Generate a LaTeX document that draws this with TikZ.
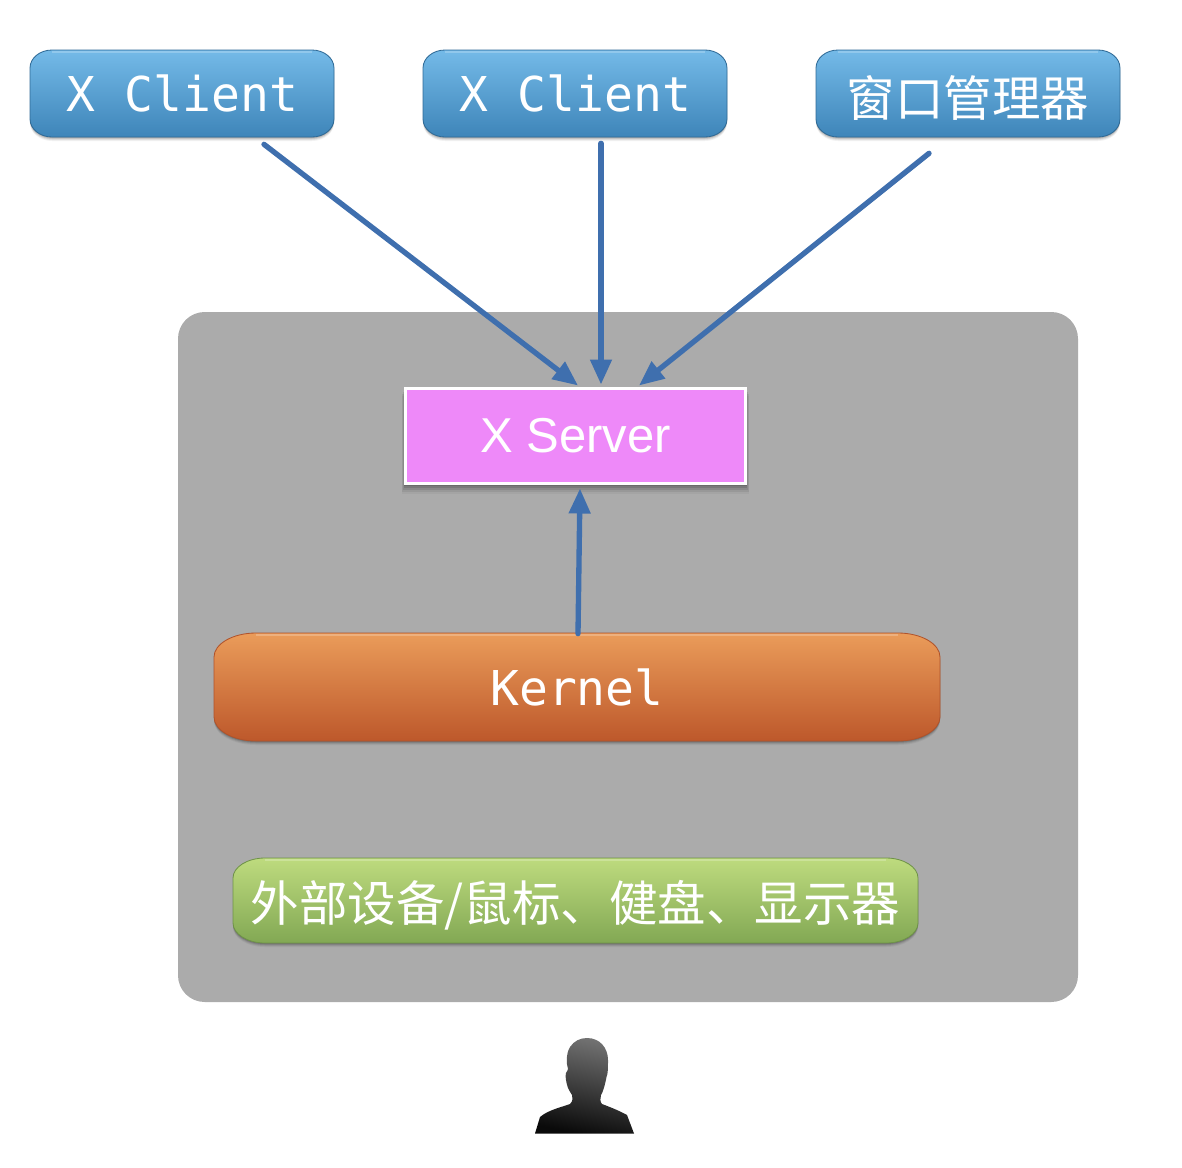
\documentclass[tikz,border=0pt]{standalone}
\usepackage{fontspec}
\setmainfont{Liberation Sans}
\setmonofont{DejaVu Sans Mono}
\newfontfamily\cjkfont{Noto Sans CJK SC}
\usetikzlibrary{arrows.meta,calc}
\definecolor{panelgrey}{HTML}{ABABAB}
\definecolor{arrowblue}{HTML}{3F6FAE}
\definecolor{blueT}{HTML}{74BAE8}
\definecolor{blueB}{HTML}{3E85B9}
\definecolor{blueE}{HTML}{2F6A96}
\definecolor{orangeT}{HTML}{EA9C5A}
\definecolor{orangeB}{HTML}{BD582B}
\definecolor{orangeE}{HTML}{B0532B}
\definecolor{greenT}{HTML}{BEDB7E}
\definecolor{greenB}{HTML}{82A854}
\definecolor{greenE}{HTML}{6F9348}
\definecolor{serverpink}{HTML}{EE89F9}
\newcommand{\softpath}[6]{(#1+#5,#2) -- (#3-#5,#2) .. controls (#3-0.45*#5,#2) and (#3,#2+0.45*#6) .. (#3,#2+#6) -- (#3,#4-#6) .. controls (#3,#4-0.45*#6) and (#3-0.45*#5,#4) .. (#3-#5,#4) -- (#1+#5,#4) .. controls (#1+0.45*#5,#4) and (#1,#4-0.45*#6) .. (#1,#4-#6) -- (#1,#2+#6) .. controls (#1,#2+0.45*#6) and (#1+0.45*#5,#2) .. (#1+#5,#2) -- cycle}
% x0 y0 x1 y1 rx ry top bottom edge
\newcommand{\softbox}[9]{%
  \foreach \d/\o in {4/0.05,3/0.08,2/0.11,1/0.14}{\fill[black,opacity=\o,shift={(0,\d)}] \softpath{#1}{#2}{#3}{#4}{#5}{#6};}
  \shade[top color=#7,bottom color=#8,draw=#9,line width=0.5pt] \softpath{#1}{#2}{#3}{#4}{#5}{#6};
  \draw[white,opacity=0.22,line width=1.2pt] (#1+#5,#2+2) -- (#3-#5,#2+2);
}
\tikzset{
  x=0.6pt,y=-0.6pt,
  label box/.style={inner sep=0pt,text=white,anchor=center},
  mono label/.style={label box,font=\ttfamily\fontsize{28.8}{30}\selectfont},
  cjk label/.style={label box,font=\cjkfont\fontsize{29.1}{30}\selectfont},
  flow/.style={arrowblue,line width=3.2pt,line cap=round,-{Triangle[length=15pt,width=12.5pt]}},
  panel/.style={fill=panelgrey,draw=none,rounded corners=16pt},
  server/.style={fill=serverpink,draw=white,line width=1.8pt,minimum width=204pt,minimum height=57pt,inner sep=0pt,text=white,font=\fontsize{29.4}{30}\selectfont},
}
\begin{document}
\begin{tikzpicture}
\useasboundingbox (0,0) rectangle (1182,1168);
\fill[panel] (178,312) rectangle (1078,1002);

\softbox{30}{50}{334}{137}{22}{18}{blueT}{blueB}{blueE}
\softbox{423}{50}{727}{137}{22}{18}{blueT}{blueB}{blueE}
\softbox{816}{50}{1120}{137}{22}{18}{blueT}{blueB}{blueE}
\softbox{214}{633}{940}{741}{42}{24}{orangeT}{orangeB}{orangeE}
\softbox{233}{858}{918}{943}{32}{20}{greenT}{greenB}{greenE}

\node[mono label,minimum width=182.4pt,minimum height=52.2pt] (c1) at (182.5,93.5) {X Client};
\node[mono label,minimum width=182.4pt,minimum height=52.2pt] (c2) at (575.5,93.5) {X Client};
\node[cjk label,minimum width=182.4pt,minimum height=52.2pt] (wm) at (968,97.5) {窗口管理器};
\node[mono label,minimum width=435.6pt,minimum height=64.8pt] (kernel) at (577,687) {Kernel};
\node[cjk label,minimum width=411pt,minimum height=51pt] (dev) at (575.5,905) {外部设备/鼠标、健盘、显示器};

\foreach \d/\o in {10/0.04,8/0.07,6/0.09,4/0.11,2/0.13}{\fill[black,opacity=\o] (405-\d/3,386+\d) rectangle (746+\d/3,484+\d);}
\node[server] (xs) at (575.5,435.5) {X Server};

\draw[flow] ([shift={(81.5,7)}]c1.south) -- ([shift={(2.5,-1)}]xs.north);
\draw[flow] ([shift={(25.5,6)}]c2.south) -- ([shift={(25.5,-2)}]xs.north);
\draw[flow] ([shift={(-39,12)}]wm.south) -- ([shift={(63.5,-1)}]xs.north);
\draw[flow] ([shift={(1,1)}]kernel.north) -- ([shift={(4.5,4)}]xs.south);

\shade[top color=black!55,bottom color=black!96,shading angle=-12]
  (587,1038) .. controls (600,1038) and (608,1048) .. (608,1060)
  .. controls (608,1068) and (608,1074) .. (606.5,1077)
  .. controls (605,1085) and (603,1092) .. (601,1095)
  .. controls (600,1098) and (600,1102) .. (602,1104)
  .. controls (610,1107) and (620,1111) .. (627,1115)
  -- (634,1133.5) -- (535,1133.5) -- (540,1117)
  .. controls (548,1110) and (562,1107) .. (570,1104)
  .. controls (573,1101) and (573,1098) .. (572,1095)
  .. controls (570,1092) and (569,1090) .. (568,1088)
  .. controls (566,1082) and (565,1076) .. (566,1073)
  .. controls (567,1071) and (568,1070) .. (568,1069)
  .. controls (566,1062) and (566,1054) .. (570,1047)
  .. controls (574,1041) and (580,1038) .. (587,1038) -- cycle;
\end{tikzpicture}
\end{document}
